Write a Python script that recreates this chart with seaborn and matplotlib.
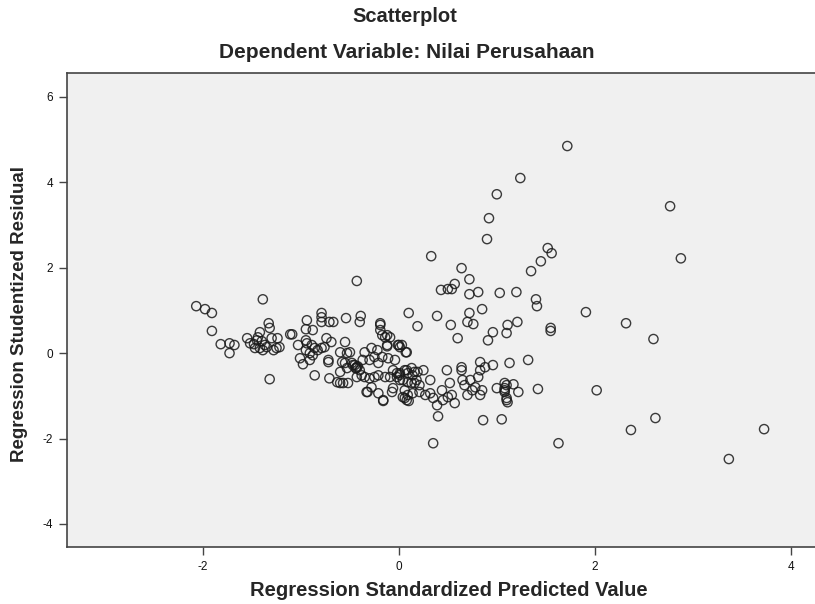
import matplotlib
matplotlib.use('Agg')
import matplotlib.pyplot as plt
import seaborn as sns
import pandas as pd

# Regression standardized predicted value (x) and studentized residual (y),
# read off the SPSS residual plot
pred = [
    # left tail
    -2.07, -1.98, -1.91, -1.91, -1.82, -1.73, -1.68, -1.73, -1.55, -1.52,
    -1.48, -1.45, -1.42, -1.44, -1.40, -1.37, -1.47, -1.42, -1.39, -1.35,
    -1.33, -1.32, -1.30, -1.28, -1.25, -1.24, -1.22, -1.11, -1.39, -1.32,
    # -1.1 .. -0.4
    -1.03, -1.01, -0.98, -0.94, -0.95, -0.95, -0.94, -0.88, -0.95, -0.89,
    -0.86, -0.83, -0.79, -0.76, -0.74, -0.69, -0.91, -0.88, -0.86, -0.72,
    -0.72, -0.79, -0.79, -0.79, -0.71, -0.67, -0.54, -0.39, -0.40, -0.43,
    -0.55, -1.09, -0.91,
    # dense centre
    -0.60, -0.53, -0.50, -0.58, -0.55, -0.48, -0.45, -0.43, -0.42, -0.44,
    -0.40, -0.37, -0.35, -0.28, -0.22, -0.25, -0.30, -0.21, -0.17, -0.12,
    -0.11, -0.14, -0.19, -0.17, -0.12, -0.09, -0.04, -0.01, 0.08, 0.06,
    0.09, 0.13, 0.16, 0.19, 0.18, 0.13, 0.06, 0.09, 0.08, 0.04,
    -0.07, -0.16, -0.21, -0.28, -0.32, -0.30, -0.35, -0.38, -0.43, -0.52,
    -0.57, -0.60, -0.63, -0.71, -0.60, -0.53, -0.25, -0.21, -0.14, -0.09,
    -0.06, -0.02, 0.01,
    # 0 .. 1.3
    0.19, 0.53, 0.70, 0.76, 0.60, 0.91, 0.96, 1.11, 1.10, 1.21,
    0.03, 0.01, 0.08, 0.14, 0.04, 0.09, 0.16, 0.21, 0.25, 0.32,
    0.21, 0.27, 0.06, 0.10, 0.14, 0.32, 0.35, 0.39, 0.40, 0.44,
    0.45, 0.50, 0.54, 0.52, 0.49, 0.57, 0.64, 0.64, 0.65, 0.67,
    0.73, 0.70, 0.75, 0.78, 0.83, 0.83, 0.81, 0.85, 0.83, 0.88,
    0.96, 1.00, 1.10, 1.08, 1.10, 1.11, 1.17, 1.22, 1.13, 1.32,
    0.86, 1.05, 0.35,
    # extra scattered
    0.10, 0.39, 0.72, 0.85, -0.19, -0.19, -0.12, 0.00, 0.01, 0.07,
    -0.33, -0.16, -0.06, -0.02, 0.01, -0.47, -0.44,
    # upper / right outliers
    1.72, 1.24, 1.00, 0.92, 0.90, 0.33, 1.52, 1.56, 1.45, 1.35,
    0.64, 0.72, 0.57, 0.43, 0.50, 0.54, 0.72, 0.81, 1.03, 1.20,
    1.40, 1.41, 1.91, 2.32, 2.60, 2.77, 2.88, 1.55, 1.55, 1.08,
    1.08, 1.08, 1.10, 1.42, 2.02, 2.62, 2.37, 3.73, 1.63, 3.37,
]
resid = [
    1.10, 1.03, 0.94, 0.52, 0.21, 0.23, 0.19, 0.00, 0.35, 0.23,
    0.21, 0.30, 0.49, 0.37, 0.28, 0.19, 0.12, 0.12, 0.07, 0.14,
    0.70, 0.59, 0.35, 0.07, 0.12, 0.35, 0.14, 0.44, 1.26, -0.61,
    0.19, -0.12, -0.26, 0.77, 0.56, 0.30, 0.23, 0.54, 0.07, 0.19,
    0.12, 0.07, 0.12, 0.14, 0.35, 0.26, -0.16, -0.05, -0.52, -0.16,
    -0.21, 0.94, 0.84, 0.73, 0.73, 0.73, 0.82, 0.87, 0.73, 1.69,
    0.26, 0.44, 0.00,
    0.02, 0.00, 0.02, -0.21, -0.23, -0.23, -0.28, -0.33, -0.31, -0.35,
    -0.40, -0.16, 0.02, 0.12, 0.07, -0.09, -0.16, -0.23, -0.09, 0.19,
    -0.12, 0.37, 0.70, 0.42, 0.42, 0.37, -0.16, 0.19, 0.02, -0.40,
    -0.47, -0.35, -0.44, -0.44, -0.63, -0.70, -0.87, -0.98, -1.10, -1.03,
    -0.91, -1.10, -0.94, -0.80, -0.91, -0.59, -0.56, -0.52, -0.56, -0.70,
    -0.70, -0.70, -0.68, -0.59, -0.44, -0.35, -0.56, -0.52, -0.56, -0.56,
    -0.40, -0.56, -0.63,
    0.63, 0.66, 0.73, 0.68, 0.35, 0.30, 0.49, 0.66, 0.47, 0.73,
    0.19, -0.47, -0.40, -0.52, -0.63, -0.68, -0.70, -0.75, -0.40, -0.63,
    -0.91, -0.98, -1.05, -1.12, -0.94, -0.94, -1.05, -1.22, -1.48, -0.87,
    -1.10, -1.03, -0.98, -0.70, -0.40, -1.17, -0.33, -0.40, -0.63, -0.75,
    -0.63, -0.98, -0.87, -0.80, -0.21, -0.40, -0.56, -0.87, -0.98, -0.33,
    -0.28, -0.82, -0.75, -0.87, -1.05, -1.15, -0.73, -0.91, -0.23, -0.16,
    -1.57, -1.55, -2.11,
    0.94, 0.87, 0.94, 1.03, 0.66, 0.54, 0.16, 0.19, 0.14, 0.02,
    -0.91, -1.12, -0.82, -0.47, -0.51, -0.28, -0.35,
    4.85, 4.10, 3.72, 3.16, 2.67, 2.27, 2.46, 2.34, 2.15, 1.92,
    1.99, 1.73, 1.62, 1.48, 1.50, 1.50, 1.38, 1.43, 1.41, 1.43,
    1.26, 1.10, 0.96, 0.70, 0.33, 3.44, 2.22, 0.59, 0.52, -0.70,
    -0.82, -0.91, -1.10, -0.84, -0.87, -1.52, -1.80, -1.78, -2.11, -2.48,
]

x_ticks = [-2, 0, 2, 4]
y_ticks = [-4, -2, 0, 2, 4, 6]

df = pd.DataFrame({'pred': pred, 'resid': resid})

sns.set_style('white')
plt.rcParams['font.family'] = ['Liberation Sans', 'DejaVu Sans']
plt.rcParams['axes.unicode_minus'] = False

fig = plt.figure(figsize=(8.15, 6.04), dpi=100)
# plot area runs off the right edge like the SPSS export
ax = fig.add_axes([67 / 815, 57 / 604, 748 / 815, 474 / 604])
ax.set_facecolor('#F0F0F0')

sns.scatterplot(data=df, x='pred', y='resid', ax=ax, marker='o', s=44,
                facecolor='none', edgecolor='#1a1a1a', linewidth=1.0, alpha=0.85)

ax.set_xlim(-3.39, 4.25)
ax.set_ylim(-4.54, 6.56)
ax.set_xticks(x_ticks)
ax.set_yticks(y_ticks)
ax.set_xlabel('')
ax.set_ylabel('')
ax.tick_params(bottom=True, left=True, direction='out', length=6, width=1,
               color='#444444', labelsize=8.5, labelcolor='#111111', pad=4)

for side in ['left', 'top', 'bottom']:
    ax.spines[side].set_color('#444444')
    ax.spines[side].set_linewidth(1.2)
ax.spines['right'].set_visible(False)

# titles and axis labels
fig.text(405 / 815, 1 - 17 / 604, 'Scatterplot', ha='center', va='center',
         fontsize=14.5, fontweight='bold')
fig.text(407 / 815, 1 - 53 / 604, 'Dependent Variable: Nilai Perusahaan',
         ha='center', va='center', fontsize=15, fontweight='bold')
fig.text(449 / 815, 1 - 590 / 604, 'Regression Standardized Predicted Value',
         ha='center', va='center', fontsize=14.5, fontweight='bold')
fig.text(20 / 815, 1 - 314 / 604, 'Regression Studentized Residual',
         ha='center', va='center', rotation=90, fontsize=13.5, fontweight='bold')

fig.savefig('out.png', dpi=100)
plt.close()
